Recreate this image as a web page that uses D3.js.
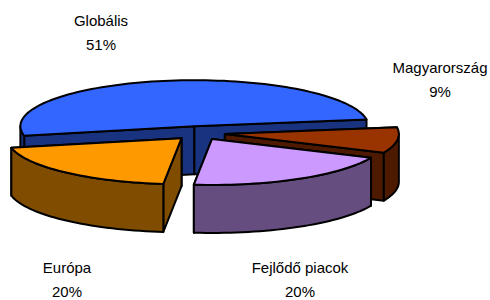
<!DOCTYPE html>
<html>
<head>
<meta charset="utf-8">
<script src="https://cdn.jsdelivr.net/npm/d3@7"></script>
<style>
  body { margin: 0; background: #fff; }
  svg text { font-family: "Liberation Sans", Arial, sans-serif; font-size: 15px; fill: #000; }
</style>
</head>
<body>
<div id="chart"></div>
<script>
// data
var categories = ["Globális", "Magyarország", "Fejlődő piacok", "Európa"];
var values = [51, 9, 20, 20];
var pctLabels = ["51%", "9%", "20%", "20%"];

var w = 490, h = 300;
var cx = 199, cy = 133, rx = 174, ry = 46, depth = 48, explode = 0.15;
var deg = Math.PI / 180;

var topColor = d3.scaleOrdinal().domain(categories)
  .range(["#3366FF", "#993300", "#CC99FF", "#FF9900"]);
var sideColor = d3.scaleOrdinal().domain(categories)
  .range(["#1A3380", "#4D1A00", "#664D80", "#804D00"]);

// label anchors (first line baseline)
var labelPos = [[101, 26], [440, 73], [300, 273], [67, 273]];

var pie = d3.pie().sort(null).value(function (d) { return d; })
  .startAngle(-102 * deg).endAngle(258 * deg);
var arcs = pie(values);

var svg = d3.select("#chart").append("svg")
  .attr("width", w).attr("height", h);

function pt(o, a, dy) {
  return [o[0] + rx * Math.sin(a), o[1] - ry * Math.cos(a) + (dy || 0)];
}
function arcPts(o, a0, a1, dy) {
  var n = Math.max(2, Math.ceil(Math.abs(a1 - a0) / (2 * deg)));
  var out = [];
  for (var i = 0; i <= n; i++) out.push(pt(o, a0 + (a1 - a0) * i / n, dy));
  return out;
}
var line = d3.line();

arcs.forEach(function (d, i) {
  var mid = (d.startAngle + d.endAngle) / 2;
  d.name = categories[i];
  d.o = [cx + explode * rx * Math.sin(mid), cy - explode * ry * Math.cos(mid)];
  d.back = Math.cos(mid);
});

var order = arcs.slice().sort(function (a, b) { return b.back - a.back; });

order.forEach(function (d) {
  var g = svg.append("g")
    .attr("stroke", "#000").attr("stroke-width", 2)
    .attr("stroke-linejoin", "round");
  var o = d.o, a0 = d.startAngle, a1 = d.endAngle;

  // cut faces: hidden first, visible after
  var faces = [
    { a: a0, vis: Math.cos(a0 - Math.PI / 2) < 0 },
    { a: a1, vis: Math.cos(a1 + Math.PI / 2) < 0 }
  ].sort(function (p, q) { return p.vis - q.vis; });
  faces.forEach(function (f) {
    var p = pt(o, f.a);
    g.append("path")
      .attr("d", line([o, p, [p[0], p[1] + depth], [o[0], o[1] + depth]]) + "Z")
      .attr("fill", sideColor(d.name));
  });

  // outer wall, front half only
  [[90 * deg, 270 * deg], [-270 * deg, -90 * deg]].forEach(function (r) {
    var b0 = Math.max(a0, r[0]), b1 = Math.min(a1, r[1]);
    if (b1 <= b0) return;
    var topArc = arcPts(o, b0, b1, 0);
    var botArc = arcPts(o, b1, b0, depth);
    g.append("path")
      .attr("d", line(topArc.concat(botArc)) + "Z")
      .attr("fill", sideColor(d.name));
  });

  // top
  g.append("path")
    .attr("d", line([o].concat(arcPts(o, a0, a1, 0))) + "Z")
    .attr("fill", topColor(d.name));
});

// labels
var lab = svg.append("g").selectAll("text")
  .data(arcs).enter().append("text")
  .attr("text-anchor", "middle")
  .attr("x", function (d, i) { return labelPos[i][0]; })
  .attr("y", function (d, i) { return labelPos[i][1]; });
lab.append("tspan").text(function (d, i) { return categories[i]; });
lab.append("tspan")
  .attr("x", function (d, i) { return labelPos[i][0]; })
  .attr("dy", 24)
  .text(function (d, i) { return pctLabels[i]; });
</script>
</body>
</html>
